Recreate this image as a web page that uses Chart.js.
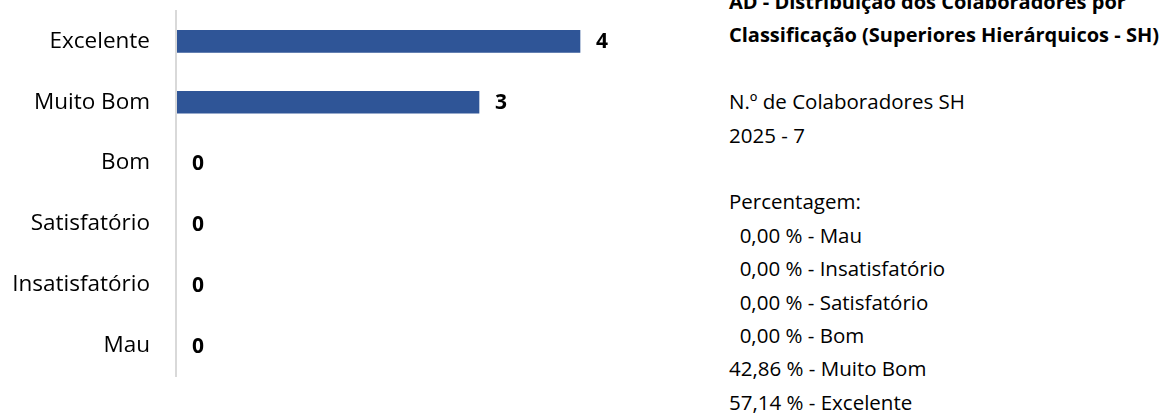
<!DOCTYPE html>
<html>
<head>
<meta charset="utf-8">
<script src="https://cdn.jsdelivr.net/npm/chart.js@4"></script>
<style>
  html, body { margin: 0; padding: 0; background: #fff; }
  #wrap { position: relative; width: 1165px; height: 416px; overflow: hidden; }
  #chartBox { position: absolute; left: 0; top: 0; width: 700px; height: 416px; }
  #info {
    position: absolute; left: 729px; top: -15px;
    font-family: "Open Sans", sans-serif; font-size: 20.5px; color: #000;
    line-height: 33.4px; white-space: pre;
  }
  #info .title { font-weight: bold; font-size: 20px; }
</style>
</head>
<body>
<div id="wrap">
  <div id="chartBox"><canvas id="distChart"></canvas></div>
  <div id="info"></div>
</div>
<script>
// categories top -> bottom, as shown
const categories = ['Excelente', 'Muito Bom', 'Bom', 'Satisfatório', 'Insatisfatório', 'Mau'];
const counts = [4, 3, 0, 0, 0, 0];

// side panel text
const titleLines = ['AD - Distribuição dos Colaboradores por', 'Classificação (Superiores Hierárquicos - SH)'];
const totalLabel = 'N.º de Colaboradores SH';
const totalLine = '2025 - 7';
const pctCategories = ['Mau', 'Insatisfatório', 'Satisfatório', 'Bom', 'Muito Bom', 'Excelente'];
const pctValues = ['0,00', '0,00', '0,00', '0,00', '42,86', '57,14'];

/* =========================
   SIDE TEXT
========================= */
function buildInfo() {
  const box = document.getElementById('info');
  let html = titleLines.map(t => `<div class="title">${t}</div>`).join('');
  html += '<div>&nbsp;</div>';
  html += `<div>${totalLabel}</div><div>${totalLine}</div><div>&nbsp;</div>`;
  html += '<div>Percentagem:</div>';
  pctCategories.forEach((c, i) => {
    const v = pctValues[i].length < 5 ? '  ' + pctValues[i] : pctValues[i];
    html += `<div>${v} % - ${c}</div>`;
  });
  box.innerHTML = html;
}

/* =========================
   VALUE LABELS
========================= */
const valueLabels = {
  id: 'valueLabels',
  afterDatasetsDraw(chart) {
    const ctx = chart.ctx;
    const meta = chart.getDatasetMeta(0);
    ctx.save();
    ctx.font = 'bold 21px "Open Sans", sans-serif';
    ctx.fillStyle = '#000';
    ctx.textAlign = 'left';
    ctx.textBaseline = 'middle';
    meta.data.forEach((bar, i) => {
      ctx.fillText(String(counts[i]), bar.x + 16, bar.y + 1);
    });
    ctx.restore();
  }
};

document.addEventListener('DOMContentLoaded', function () {
  buildInfo();

  const ctx = document.getElementById('distChart').getContext('2d');
  new Chart(ctx, {
    type: 'bar',
    data: {
      labels: categories,
      datasets: [{
        data: counts,
        backgroundColor: '#2F5597',
        borderWidth: 0,
        barThickness: 22
      }]
    },
    options: {
      indexAxis: 'y',
      responsive: true,
      maintainAspectRatio: false,
      animation: false,
      layout: { padding: { top: 11, bottom: 40, right: 19, left: 0 } },
      plugins: { legend: { display: false }, tooltip: { enabled: false } },
      scales: {
        x: { display: false, min: 0, max: 5 },
        y: {
          grid: { display: false, drawTicks: false },
          border: { display: true, color: '#d9d9d9', width: 2, z: 1 },
          ticks: {
            padding: 26,
            color: '#000',
            font: { family: '"Open Sans", sans-serif', size: 22.5 }
          },
          afterFit(scale) {
            scale.width = 176;
            scale.paddingTop = 0;
            scale.paddingBottom = 0;
          }
        }
      }
    },
    plugins: [valueLabels]
  });
});
</script>
</body>
</html>
